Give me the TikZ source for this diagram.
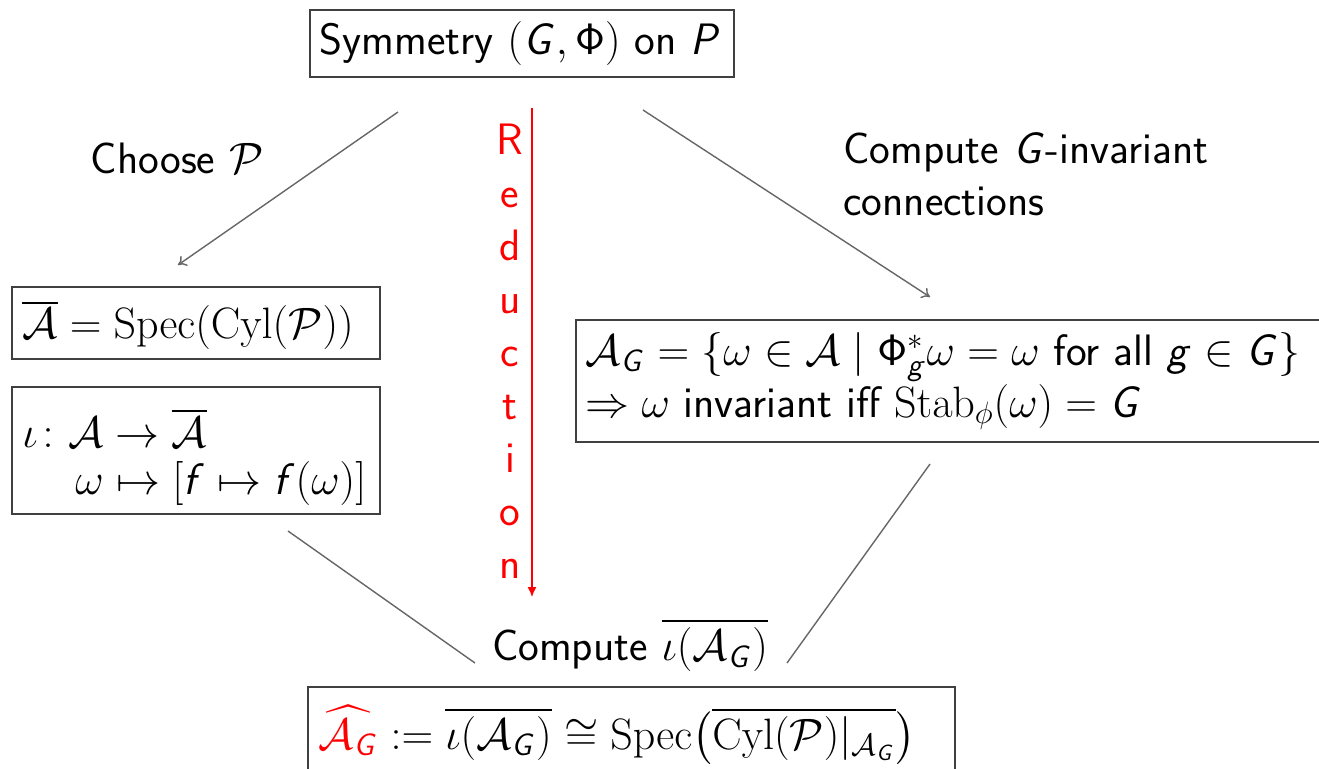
\RequirePackage{fix-cm}
\documentclass[tikz,border=0pt]{standalone}
\usepackage{amsmath,amssymb}
\usetikzlibrary{arrows.meta}
\DeclareMathAlphabet{\mathsfit}{OT1}{cmss}{m}{sl}
\DeclareMathAlphabet{\mathsfup}{OT1}{cmss}{m}{n}
\newcommand{\xG}{\mathsfit{G}}
\newcommand{\xP}{\mathsfit{P}}
\newcommand{\xf}{\mathsfit{f}}
\newcommand{\xg}{\mathsfit{g}}
\newcommand{\xPhi}{\mathsfup{\Phi}}
\begin{document}
\begin{tikzpicture}[x=0.5pt,y=-0.5pt,
  box/.style={draw=black!75, line width=0.7pt, rectangle, inner sep=0pt},
  txt/.style={inner sep=0pt, font=\fontsize{22}{26}\selectfont\sffamily},
  conn/.style={draw=black!60, line width=0.7pt},
  arr/.style={conn, -{To[length=4pt,width=6pt]}},
  redarr/.style={draw=red, line width=0.7pt, -{Latex[length=5pt,width=4.5pt]}}]
\clip (0,0) rectangle (1319,768);
% boxes
\node[box, minimum width=212pt, minimum height=33.5pt] (top) at (522,43.5) {};
\node[box, minimum width=184pt, minimum height=36pt] (abar) at (196,323) {};
\node[box, minimum width=184pt, minimum height=63.5pt] (iota) at (196,450.5) {};
\node[box, minimum width=377pt, minimum height=61pt] (ag) at (953,381) {};
\node[box, minimum width=323.5pt, minimum height=50pt] (bot) at (631.5,737) {};
% texts
\node[txt] (toptxt) at (520,43.5) {Symmetry $(\xG,\xPhi)$ on $\xP$};
\node[txt, anchor=west] (abartxt) at (22,325) {$\overline{\mathcal A} = \mathrm{Spec}(\mathrm{Cyl}(\mathcal P))$};
\node[txt, anchor=west] (iotatxt1) at (22,428) {$\iota\colon \mathcal A \to \overline{\mathcal A}$};
\node[txt, anchor=west] (iotatxt2) at (75,483) {$\omega \mapsto [\xf \mapsto \xf(\omega)]$};
\node[txt, anchor=west] (agtxt1) at (585,357) {$\mathcal A_{\xG} = \{\omega\in\mathcal A \mid \xPhi^*_{\xg}\omega = \omega \text{ for all } \xg\in\xG\}$};
\node[txt, anchor=west] (agtxt2) at (585,407) {$\Rightarrow \omega$ invariant iff $\mathrm{Stab}_\phi(\omega) = \xG$};
\node[txt, anchor=west] (bottxt) at (318,735) {$\color{red}\widehat{\mathcal A_{\xG}}\color{black} := \overline{\iota(\mathcal A_{\xG})} \cong \mathrm{Spec}\bigl(\overline{\mathrm{Cyl}(\mathcal P)|_{\mathcal A_{\xG}}}\bigr)$};
\node[txt] (choose) at (177,158) {Choose $\mathcal P$};
\node[txt, anchor=west, align=left, font=\fontsize{22}{26}\selectfont\sffamily] (cinv) at (843,174) {Compute $\xG$-invariant\\connections};
\node[txt] (ciota) at (630,645) {Compute $\overline{\iota(\mathcal A_{\xG})}$};
\node[txt, text=red, align=center, font=\fontsize{22}{26.5}\selectfont\sffamily] (red) at (510,351) {R\\e\\d\\u\\c\\t\\i\\o\\n};
% connector ends
\coordinate (l1) at (398,112);
\coordinate (l2) at (178,265);
\coordinate (r1) at (643,110);
\coordinate (r2) at (930,297);
\coordinate (d1) at (532,108);
\coordinate (d2) at (532,597);
\coordinate (bl1) at (288,531);
\coordinate (bl2) at (475,663);
\coordinate (br1) at (930,464);
\coordinate (br2) at (787,663);
\draw[arr] (l1) -- (l2);
\draw[arr] (r1) -- (r2);
\draw[redarr] (d1) -- (d2);
\draw[conn] (bl1) -- (bl2);
\draw[conn] (br1) -- (br2);
\end{tikzpicture}
\end{document}
